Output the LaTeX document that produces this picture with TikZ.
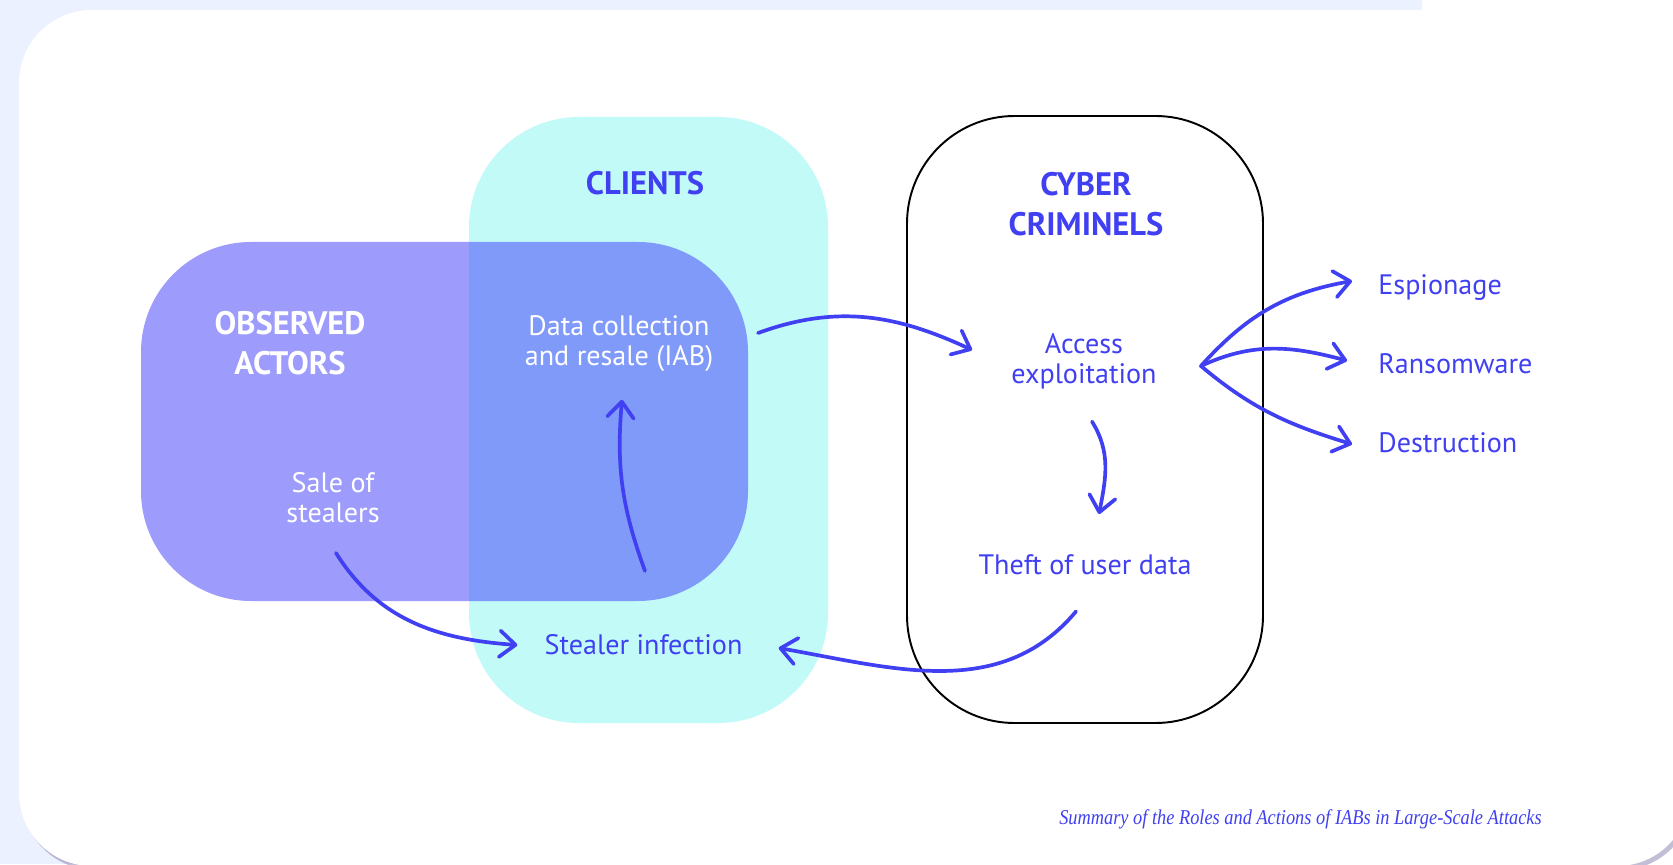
\documentclass[tikz,border=0pt]{standalone}
\usepackage{fontspec}
\setmainfont{PT Sans}
\newfontfamily\capfont[FakeStretch=0.87]{Liberation Serif}
\usepackage{tikz}
\usetikzlibrary{positioning,calc,arrows.meta,shadows}

\definecolor{ink}{RGB}{64,64,242}
\definecolor{paleblue}{RGB}{235,241,254}
\definecolor{clientcyan}{RGB}{194,250,248}
\definecolor{actorblue}{RGB}{68,66,250}
\definecolor{cardshadow}{RGB}{120,112,165}

\newcommand{\stepfont}{\fontsize{16}{17}\selectfont}
\newcommand{\headfont}{\fontsize{18.5}{22.8}\selectfont\bfseries}

\begin{document}
\begin{tikzpicture}[
  zone/.style={rectangle,rounded corners=2.2cm,inner sep=0pt,outer sep=0pt},
  head/.style={font=\headfont,text=#1,align=center,inner sep=0pt},
  head/.default=ink,
  act/.style={font=\stepfont,text=#1,align=center,inner sep=0pt},
  act/.default=ink,
  outcome/.style={font=\stepfont,text=ink,anchor=base west,inner sep=0pt},
  flow/.style={-{Straight Barb[length=9pt,width=15pt,round]},line width=2.1pt,draw=ink,line cap=round},
]

% === PAGE AND CARD ===
\useasboundingbox (0,0) rectangle (33.46,17.28);
\fill[white] (0,0) rectangle (33.46,17.28);
\fill[paleblue] (0,0) rectangle (28.44,17.28);
\fill[white,rounded corners=1.46cm,drop shadow={shadow xshift=0.06cm,shadow yshift=-0.08cm,opacity=0.45,fill=cardshadow}]
  (0.38,-0.04) rectangle (33.8,17.08);

% === ZONES ===
\node[zone,fill=clientcyan,minimum width=7.18cm,minimum height=12.12cm] (clients) at (12.97,8.88) {};
\node[zone,fill=actorblue,fill opacity=0.52,minimum width=12.14cm,minimum height=7.18cm] (actors) at (8.89,8.85) {};
\node[zone,draw=black,line width=1.1pt,fill=white,rounded corners=2.15cm,minimum width=7.12cm,minimum height=12.14cm] (criminals) at (21.70,8.89) {};

% Zone titles
\node[head] (clientsT) at (12.9,13.61) {CLIENTS};
\node[head] (criminalsT) at (21.72,13.2) {CYBER\\CRIMINELS};
\node[head=white] (actorsT) at (5.8,10.42) {OBSERVED\\ACTORS};

% === STEPS ===
\node[act=white] (sale) at (6.66,7.32) {Sale of\\stealers};
\node[act=white] (data) at (12.38,10.4) {Data collection\\and resale (IAB)};
\node[act] (infect) at (12.87,4.38) {Stealer infection};
\node[act] (access) at (21.68,10.06) {Access\\exploitation};
\node[act] (theft) at (21.7,5.98) {Theft of user data};

% Outcomes
\node[outcome] (esp) at (27.56,11.39) {Espionage};
\node[outcome] (ransom) at (27.56,9.81) {Ransomware};
\node[outcome] (destr) at (27.56,8.23) {Destruction};

% === FLOWS ===
\draw[flow] ($(sale.south)+(0.06,-0.59)$) to[out=-58,in=176] ($(infect.west)+(-0.54,0)$);
\draw[flow] ($(infect.north)+(0.03,1.27)$) to[out=110,in=-95] ($(data.south)+(0.06,-0.55)$);
\draw[flow] ($(data.east)+(0.89,0.22)$) to[out=20,in=155] ($(access.west)+(-0.78,0.22)$);
\draw[flow] ($(access.south)+(0.16,-0.65)$) to[out=-58,in=79] ($(theft.north)+(0.28,0.81)$);
\draw[flow] ($(theft.south)+(-0.18,-0.72)$) to[out=-130,in=-10] ($(infect.east)+(0.72,-0.06)$);

% Fan out to outcomes
\coordinate (fan) at ($(access.east)+(0.88,-0.1)$);
\draw[flow] (fan) to[out=48,in=190] ($(esp.west)+(-0.52,0.13)$);
\draw[flow] (fan) to[out=25,in=165] ($(ransom.west)+(-0.62,0.06)$);
\draw[flow] (fan) to[out=-40,in=163] ($(destr.west)+(-0.52,-0.03)$);

% Caption
\node[font=\capfont\itshape\fontsize{12}{14}\selectfont,text=ink,anchor=base east,inner sep=0pt] (caption) at (30.84,0.8)
  {Summary of the Roles and Actions of IABs in Large-Scale Attacks};

\end{tikzpicture}
\end{document}
